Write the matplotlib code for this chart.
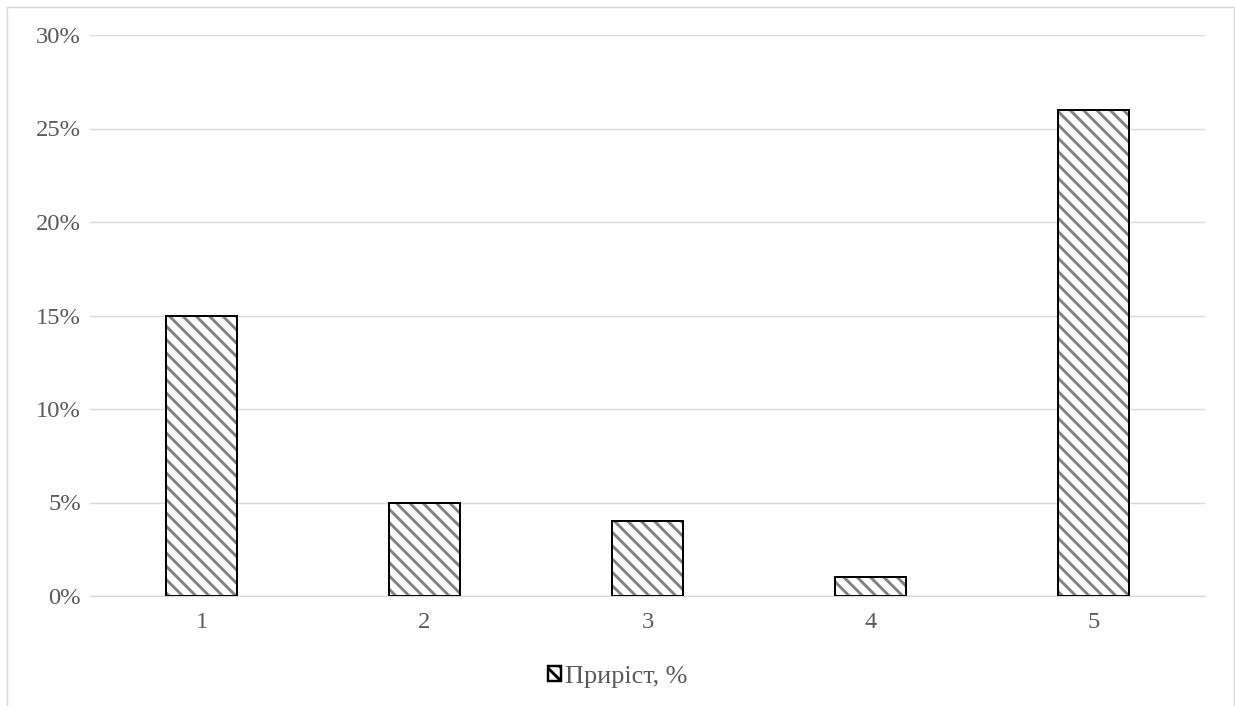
import numpy as np
import matplotlib.pyplot as plt
from matplotlib.patches import Rectangle, Patch

categories = ['1', '2', '3', '4', '5']
values = [15, 5, 4, 1, 26]   # Приріст, %
yticks = [0, 5, 10, 15, 20, 25, 30]

plt.rcParams['font.family'] = ['Liberation Serif', 'DejaVu Serif']
plt.rcParams['hatch.linewidth'] = 2.6

dpi = 80
fig = plt.figure(figsize=(1235 / dpi, 706 / dpi), dpi=dpi)
ax = fig.add_axes([90 / 1235, 1 - 596 / 706, 1115 / 1235, (596 - 35) / 706])

x = np.arange(len(categories))
# hatch fill in grey, then black outline on top
ax.bar(x, values, width=0.32, color='white', edgecolor='#808080', hatch='\\\\', linewidth=0, zorder=3)
ax.bar(x, values, width=0.32, fill=False, edgecolor='black', linewidth=1.8, zorder=4)

ax.set_xlim(-0.5, len(categories) - 0.5)
ax.set_ylim(0, 30)
ax.set_yticks(yticks)
ax.set_yticklabels(['%d%%' % v for v in yticks])
ax.set_xticks(x)
ax.set_xticklabels(categories)
ax.grid(axis='y', color='#d9d9d9', linewidth=1.3, zorder=0)
ax.set_axisbelow(True)
for s in ['top', 'right', 'left']:
    ax.spines[s].set_visible(False)
ax.spines['bottom'].set_color('#d9d9d9')
ax.spines['bottom'].set_linewidth(1.3)
ax.tick_params(length=0, labelsize=22, colors='#595959')
ax.tick_params(axis='y', pad=8)
ax.tick_params(axis='x', pad=14)

handle = Patch(facecolor='white', edgecolor='black', hatch='\\\\', linewidth=2.2)
fig.legend([handle], ['Приріст, %'], loc='center', bbox_to_anchor=(0.5, 1 - 677 / 706),
           frameon=False, fontsize=23.5, labelcolor='#595959', handlelength=0.5,
           handleheight=0.5, handletextpad=0.15)

fig.patches.append(Rectangle((7 / 1235, -0.05), 1227 / 1235, 1.05 - 7 / 706,
                             transform=fig.transFigure, fill=False,
                             edgecolor='#d9d9d9', linewidth=1.3))

fig.savefig('out.png', dpi=dpi, facecolor='white')
